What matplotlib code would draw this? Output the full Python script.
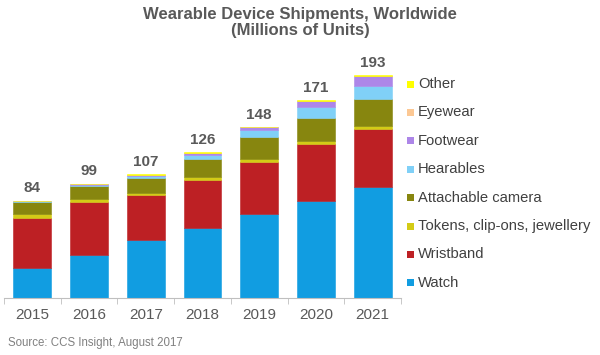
import matplotlib.pyplot as plt
from matplotlib.patches import Rectangle
import numpy as np

plt.rcParams['font.family'] = ['Liberation Sans', 'DejaVu Sans']

years = ["2015", "2016", "2017", "2018", "2019", "2020", "2021"]
totals = [84, 99, 107, 126, 148, 171, 193]

# stacked from bottom to top
categories = ["Watch", "Wristband", "Tokens, clip-ons, jewellery", "Attachable camera",
              "Hearables", "Footwear", "Eyewear", "Other"]
watch = [26.0, 37.5, 50.0, 60.3, 72.7, 84.2, 96.1]
wristband = [43.0, 45.3, 38.9, 41.9, 45.3, 48.8, 50.5]
tokens = [4.0, 2.9, 2.0, 2.3, 2.3, 2.6, 2.3]
camera = [10.4, 11.5, 13.0, 16.1, 18.8, 20.2, 23.1]
hearables = [0.2, 0.3, 1.5, 3.2, 6.4, 9.3, 11.5]
footwear = [0.3, 1.0, 1.0, 1.5, 2.3, 5.2, 8.7]
eyewear = [0.1, 0.2, 0.3, 0.4, 0.1, 0.3, 0.4]
other = [0.1, 0.3, 0.3, 0.3, 0.1, 0.4, 0.4]

series = [watch, wristband, tokens, camera, hearables, footwear, eyewear, other]
colors = ["#119DE1", "#BD2024", "#D3CB16", "#87860F", "#80D0F7", "#AD86E8", "#FCC894", "#FFFF00"]

fig = plt.figure(figsize=(6, 3.55), dpi=100)
ax = fig.add_axes([4 / 600, 57 / 355, 397 / 600, 231 / 355])

x = np.arange(len(years))
bottom = np.zeros(len(years))
for vals, col in zip(series, colors):
    ax.bar(x, vals, bottom=bottom, width=0.67, color=col, edgecolor=col, linewidth=0.4)
    bottom += np.array(vals)

for xi, tot in zip(x, totals):
    ax.annotate(str(tot), (xi, tot), xytext=(0, 4), textcoords="offset points",
                ha="center", va="bottom", fontsize=11, fontweight="bold", color="#595959")

ax.set_xlim(-0.5, len(years) - 0.5)
ax.set_ylim(0, 200)
ax.set_yticks([])
ax.set_xticks(x)
ax.set_xticklabels(years, fontsize=11, color="#595959")
ax.tick_params(axis="x", which="major", length=0, pad=7)
ax.set_xticks(np.arange(-0.5, len(years)), minor=True)
ax.tick_params(axis="x", which="minor", length=4, color="#BFBFBF", direction="out")
for s in ["top", "right", "left"]:
    ax.spines[s].set_visible(False)
ax.spines["bottom"].set_color("#BFBFBF")
ax.spines["bottom"].set_linewidth(0.8)

fig.text(0.5, 1 - 14 / 355, "Wearable Device Shipments, Worldwide", ha="center", va="center",
         fontsize=12, fontweight="bold", color="#595959")
fig.text(0.5, 1 - 31 / 355, "(Millions of Units)", ha="center", va="center",
         fontsize=12, fontweight="bold", color="#595959")

# legend, top entry is "Other"
leg_y = 84
for name, col in zip(categories[::-1], colors[::-1]):
    yy = 1 - leg_y / 355
    fig.add_artist(Rectangle((407 / 600, yy - 3.5 / 355), 7 / 600, 7 / 355,
                             transform=fig.transFigure, facecolor=col, edgecolor="none"))
    fig.text(418 / 600, yy, name, ha="left", va="center", fontsize=10.6, color="#404040")
    leg_y += 28.4

fig.text(8 / 600, 1 - 343 / 355, "Source: CCS Insight, August 2017", ha="left", va="center",
         fontsize=8.3, color="#808080")

fig.savefig("out.png", dpi=100)
